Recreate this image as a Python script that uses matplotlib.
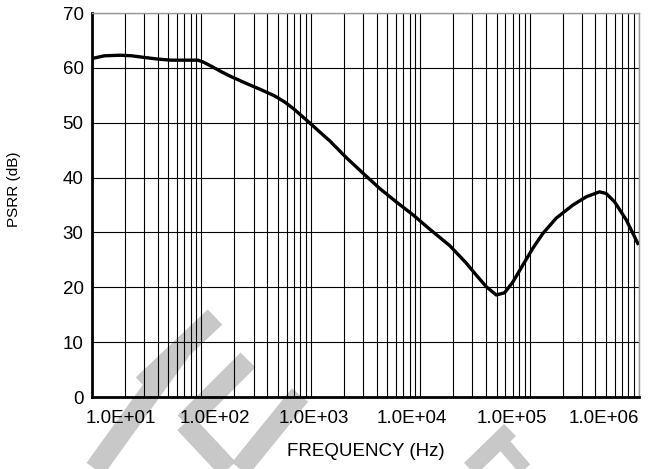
import numpy as np
import matplotlib
matplotlib.use("Agg")
from matplotlib import pyplot as plt
from matplotlib.patches import Polygon

plt.rcParams['font.family'] = ['Liberation Sans', 'DejaVu Sans']

# ----------------- Data -----------------
freq_hz = [10, 13, 18, 23, 30, 40, 53, 75, 93, 103, 123, 152, 187, 248, 352, 466, 575, 700,
           960, 1240, 1490, 2120, 3000, 4270, 6100, 8600, 12200, 18600, 26400, 32600,
           40200, 49600, 59100, 70500, 87000, 107000, 132000, 175000, 249000, 330000,
           436000, 501000, 597000, 764000, 975000]
psrr_db = [61.7, 62.2, 62.3, 62.2, 61.9, 61.6, 61.4, 61.4, 61.4, 61.1, 60.3, 59.3, 58.4, 57.3,
           56.0, 54.9, 53.8, 52.5, 50.1, 48.1, 46.7, 43.6, 40.8, 38.0, 35.5, 33.2, 30.6,
           27.6, 24.4, 22.2, 20.1, 18.6, 19.0, 21.0, 24.1, 27.1, 29.8, 32.6, 35.0, 36.5,
           37.4, 37.1, 35.6, 32.3, 28.0]

# Tick labels sit evenly spaced (not on the decades), as in the original
xtick_labels = ['1.0E+01', '1.0E+02', '1.0E+03', '1.0E+04', '1.0E+05', '1.0E+06']
xtick_frac = [0.053, 0.225, 0.406, 0.584, 0.768, 0.936]
ytick_values = [0, 10, 20, 30, 40, 50, 60, 70]

W, H = 657, 469

# ----------------- Figure -----------------
fig = plt.figure(figsize=(W / 100, H / 100), dpi=100)
ax = fig.add_axes([92 / W, 1 - 397 / H, (639 - 92) / W, (397 - 13) / H])
ax.set_facecolor('none')


def band(p0, p1, width):
    # a straight grey stroke of the watermark, in pixel coords
    p0, p1 = np.array(p0, float), np.array(p1, float)
    d = p1 - p0
    n = np.array([-d[1], d[0]]) / np.hypot(*d) * width / 2
    pts = [p0 + n, p1 + n, p1 - n, p0 - n]
    return [(x / W, 1 - y / H) for x, y in pts]


wm = '#c8c8c8'
wm_strokes = [
    ((143, 385), (215, 317), 21),
    ((180, 351), (95, 469), 21),
    ((248, 360), (185, 423), 21),
    ((185, 423), (228, 469), 21),
    ((300, 395), (240, 469), 21),
    ((470, 469), (510, 430), 17),
    ((500, 440), (525, 469), 14),
]
for p0, p1, w in wm_strokes:
    fig.patches.append(Polygon(band(p0, p1, w), closed=True, transform=fig.transFigure,
                               facecolor=wm, edgecolor='none', zorder=-1))

ax.set_xscale('log')
ax.set_xlim(10, 1e6)
ax.set_ylim(0, 70)

ax.set_yticks(ytick_values)
ax.set_xticks([10 ** (1 + 5 * f) for f in xtick_frac])
ax.set_xticklabels(xtick_labels)
ax.xaxis.set_minor_locator(matplotlib.ticker.LogLocator(base=10, subs=np.arange(1, 10)))
ax.xaxis.set_minor_formatter(matplotlib.ticker.NullFormatter())

ax.grid(True, which='minor', axis='x', color='black', linewidth=0.8)
ax.grid(True, which='major', axis='y', color='black', linewidth=0.8)
ax.set_axisbelow(True)

ax.plot(freq_hz, psrr_db, color='black', linewidth=2.4, solid_joinstyle='round', zorder=3)

ax.tick_params(axis='both', which='both', length=0, labelsize=13.5)
ax.tick_params(axis='x', pad=9)
ax.tick_params(axis='y', pad=6)

for side in ['left', 'bottom']:
    ax.spines[side].set_linewidth(2)
    ax.spines[side].set_color('black')
for side in ['top', 'right']:
    ax.spines[side].set_linewidth(1)
    ax.spines[side].set_color('#999999')

ax.set_xlabel('FREQUENCY (Hz)', fontsize=13.5, labelpad=12)
ax.set_ylabel('PSRR (dB)', fontsize=11)
ax.yaxis.set_label_coords(-0.13, 0.542)

fig.savefig('out.png', dpi=100)
